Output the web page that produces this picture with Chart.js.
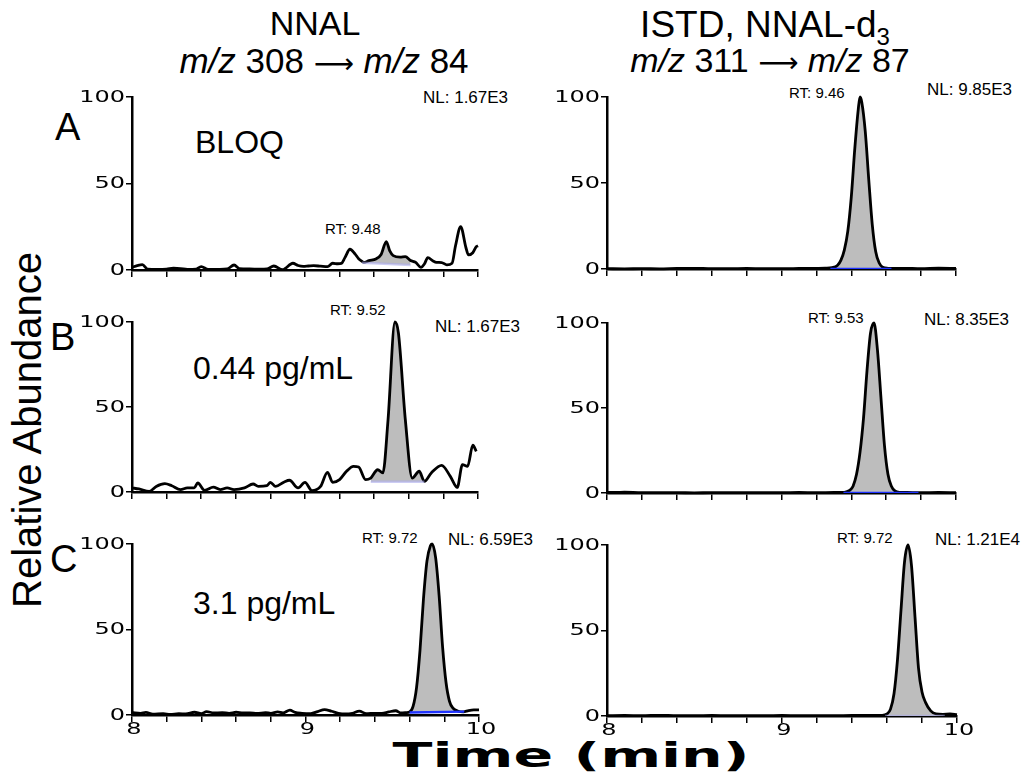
<!DOCTYPE html>
<html>
<head>
<meta charset="utf-8">
<script src="https://cdn.jsdelivr.net/npm/chart.js@4.4.0/dist/chart.umd.min.js"></script>
<style>
  body { margin: 0; background: #fff; }
  #wrap { position: relative; width: 1029px; height: 779px; overflow: hidden;
          font-family: "Liberation Sans", Arial, sans-serif; color: #000; }
  .txt { position: absolute; white-space: nowrap; line-height: 1; }
  .c { transform: translateX(-50%); }
  .nl { font-size: 17px; }
  .rt { font-size: 15px; }
  .conc { font-size: 32px; }
  .lab { font-size: 38px; }
  .hd { font-size: 34px; }
  .hd2 { font-size: 34px; }
  .arr { font-family: "DejaVu Sans"; font-size: 28px; }
  canvas { position: absolute; }
</style>
</head>
<body>
<div id="wrap">
  <div class="txt c hd" style="left:315px; top:6px;">NNAL</div>
  <div class="txt c hd2" style="left:324px; top:43px; font-size:35px;"><i>m/z</i> 308 <span class="arr">⟶</span> <i>m/z</i> 84</div>
  <div class="txt c hd" style="left:765px; top:6px; font-size:37px;">ISTD, NNAL-d<sub style="font-size:24px;">3</sub></div>
  <div class="txt c hd2" style="left:770px; top:43px;"><i>m/z</i> 311 <span class="arr">⟶</span> <i>m/z</i> 87</div>

  <div class="txt lab" style="left:55px; top:108px;">A</div>
  <div class="txt lab" style="left:50px; top:318px;">B</div>
  <div class="txt lab" style="left:50px; top:540px;">C</div>

  <div class="txt conc" style="left:195px; top:126px;">BLOQ</div>
  <div class="txt conc" style="left:193px; top:352px;">0.44 pg/mL</div>
  <div class="txt conc" style="left:193px; top:587px;">3.1 pg/mL</div>

  <div class="txt nl" style="left:423px; top:89px;">NL: 1.67E3</div>
  <div class="txt rt" style="left:325px; top:221px;">RT: 9.48</div>
  <div class="txt rt" style="left:789px; top:85px;">RT: 9.46</div>
  <div class="txt nl" style="left:927px; top:81px;">NL: 9.85E3</div>

  <div class="txt rt" style="left:330px; top:302px;">RT: 9.52</div>
  <div class="txt nl" style="left:435px; top:318px;">NL: 1.67E3</div>
  <div class="txt rt" style="left:808px; top:310px;">RT: 9.53</div>
  <div class="txt nl" style="left:924px; top:311px;">NL: 8.35E3</div>

  <div class="txt rt" style="left:362px; top:530px;">RT: 9.72</div>
  <div class="txt nl" style="left:448px; top:531px;">NL: 6.59E3</div>
  <div class="txt rt" style="left:837px; top:530px;">RT: 9.72</div>
  <div class="txt nl" style="left:935px; top:531px;">NL: 1.21E4</div>

  <div class="txt" style="left:27px; top:430px; font-size:40px; transform:translate(-50%,-50%) rotate(-90deg);">Relative Abundance</div>
  <div class="txt" style="left:571px; top:738px; font-family:'DejaVu Sans'; font-weight:bold; font-size:34px; transform:translateX(-50%) scaleX(1.72);">Time (min)</div>

  <canvas id="cA1"></canvas>
  <canvas id="cB1"></canvas>
  <canvas id="cC1"></canvas>
  <canvas id="cA2"></canvas>
  <canvas id="cB2"></canvas>
  <canvas id="cC2"></canvas>
</div>

<script>
// axis ticks
const xLabels = [8, 9, 10];
const yLabels = [0, 50, 100];

// NNAL, m/z 308 -> 84
const timeA1 = [8.00, 8.03, 8.06, 8.09, 8.15, 8.20, 8.24, 8.28, 8.32, 8.37, 8.40, 8.44, 8.50, 8.55, 8.59, 8.62, 8.68, 8.74, 8.78, 8.82, 8.87, 8.93, 8.96, 8.99, 9.02, 9.05, 9.09, 9.13, 9.16, 9.19, 9.21, 9.23, 9.26, 9.29, 9.31, 9.33, 9.34, 9.37, 9.41, 9.44, 9.47, 9.49, 9.51, 9.55, 9.58, 9.61, 9.64, 9.67, 9.69, 9.71, 9.74, 9.76, 9.79, 9.82, 9.85, 9.87, 9.90, 9.93, 9.945, 9.97, 9.99, 10.0];
const abundA1 = [1.5, 2.5, 3.1, 0.5, 0.3, 0.5, 1.0, 0.8, 0.4, 0.5, 2.0, 0.3, 0.4, 0.6, 2.9, 0.8, 0.6, 0.5, 0.6, 2.3, 0.2, 3.9, 2.6, 2.1, 2.3, 2.5, 2.2, 1.9, 3.9, 3.6, 3.8, 7.0, 12.0, 9.2, 6.5, 5.0, 4.4, 5.4, 6.4, 9.0, 16.4, 11.0, 8.3, 7.5, 7.7, 5.5, 4.4, 1.5, 3.5, 7.1, 5.2, 4.4, 4.3, 3.0, 3.9, 14.0, 25.0, 13.0, 8.7, 10.0, 13.5, 14.0];
const peakA1 = [9.33, 9.61];
const baseA1 = [4.2, 2.9];

const timeB1 = [8.00, 8.04, 8.10, 8.14, 8.19, 8.23, 8.28, 8.32, 8.36, 8.38, 8.42, 8.47, 8.51, 8.55, 8.59, 8.65, 8.70, 8.73, 8.78, 8.80, 8.83, 8.88, 8.91, 8.96, 9.00, 9.04, 9.09, 9.13, 9.16, 9.20, 9.24, 9.28, 9.31, 9.35, 9.38, 9.42, 9.45, 9.48, 9.52, 9.54, 9.58, 9.62, 9.66, 9.69, 9.73, 9.79, 9.84, 9.88, 9.91, 9.94, 9.97, 9.99];
const abundB1 = [2.4, 1.8, 0.4, 3.3, 4.9, 3.7, 1.4, 2.4, 2.4, 5.3, 1.0, 2.9, 1.4, 2.4, 1.4, 2.4, 4.7, 3.3, 3.7, 5.7, 3.3, 5.9, 6.9, 2.4, 5.7, 0.8, 3.3, 11.6, 5.7, 7.3, 12.2, 15.1, 14.7, 7.3, 8.2, 13.1, 11.2, 42.5, 100, 93.5, 42.5, 8.2, 12.2, 6.3, 11.2, 15.7, 9.2, 2.7, 16.1, 15.1, 27.5, 23.9];
const peakB1 = [9.38, 9.69];
const baseB1 = [6.0, 6.0];

const timeC1 = [8.00, 8.05, 8.08, 8.12, 8.18, 8.22, 8.27, 8.31, 8.36, 8.40, 8.43, 8.47, 8.52, 8.56, 8.60, 8.64, 8.68, 8.72, 8.77, 8.80, 8.84, 8.87, 8.91, 8.94, 8.98, 9.03, 9.07, 9.11, 9.15, 9.19, 9.23, 9.27, 9.31, 9.35, 9.40, 9.44, 9.48, 9.52, 9.55, 9.58, 9.60, 9.62, 9.64, 9.66, 9.68, 9.70, 9.72, 9.73, 9.75, 9.77, 9.79, 9.81, 9.83, 9.85, 9.88, 9.91, 9.94, 9.97, 10.0];
const abundC1 = [1.5, 1.0, 1.5, 0.5, 0.8, 0.3, 0.8, 0.6, 1.6, 0.8, 2.0, 1.2, 1.4, 1.0, 1.6, 1.2, 1.3, 0.9, 1.4, 1.0, 1.8, 1.2, 2.8, 1.5, 1.0, 0.8, 2.0, 3.2, 2.2, 1.0, 0.6, 1.0, 2.3, 0.8, 1.0, 0.9, 1.8, 2.5, 1.2, 1.4, 1.8, 5, 16, 38, 68, 90, 99, 100, 92, 70, 40, 19, 8, 4, 2.2, 1.8, 2.6, 3.0, 3.0];
const peakC1 = [9.60, 9.915];
const baseC1 = [1.5, 2.0];

// ISTD, NNAL-d3, m/z 311 -> 87
const timeA2 = [8.0, 8.1, 8.2, 8.3, 8.4, 8.5, 8.6, 8.7, 8.8, 8.9, 9.0, 9.1, 9.2, 9.25, 9.29, 9.32, 9.34, 9.36, 9.38, 9.40, 9.42, 9.44, 9.45, 9.46, 9.48, 9.50, 9.52, 9.54, 9.56, 9.58, 9.61, 9.65, 9.7, 9.8, 9.9, 10.0];
const abundA2 = [0.2, 0.1, 0.2, 0.1, 0.3, 0.4, 0.2, 0.2, 0.3, 0.2, 0.2, 0.3, 0.4, 0.5, 0.8, 2, 5, 11, 22, 42, 70, 93, 100, 97, 80, 52, 26, 10, 3.5, 1, 0.4, 0.3, 0.4, 0.2, 0.5, 0.3];
const peakA2 = [9.28, 9.63];
const baseA2 = [0, 0];

const timeB2 = [8.0, 8.05, 8.1, 8.2, 8.3, 8.4, 8.5, 8.6, 8.7, 8.8, 8.9, 9.0, 9.1, 9.2, 9.3, 9.36, 9.39, 9.41, 9.43, 9.45, 9.47, 9.49, 9.51, 9.53, 9.55, 9.57, 9.59, 9.61, 9.63, 9.65, 9.68, 9.72, 9.8, 9.9, 10.0];
const abundB2 = [0.4, 0.3, 0.5, 0.2, 0.2, 0.2, 0.1, 0.2, 0.2, 0.2, 0.2, 0.2, 0.3, 0.2, 0.3, 0.4, 1.5, 4, 11, 24, 44, 72, 94, 100, 84, 56, 28, 11, 4, 1.2, 0.4, 0.3, 0.2, 0.3, 0.2];
const peakB2 = [9.355, 9.785];
const baseB2 = [0, 0];

const timeC2 = [8.0, 8.1, 8.2, 8.3, 8.4, 8.5, 8.6, 8.7, 8.8, 8.9, 9.0, 9.1, 9.2, 9.3, 9.4, 9.5, 9.57, 9.6, 9.62, 9.64, 9.66, 9.68, 9.70, 9.72, 9.74, 9.76, 9.78, 9.80, 9.82, 9.85, 9.88, 9.92, 9.96, 10.0];
const abundC2 = [0.2, 0.3, 0.2, 0.4, 0.2, 0.2, 0.3, 0.2, 0.2, 0.2, 0.3, 0.2, 0.2, 0.2, 0.3, 0.3, 0.4, 1.2, 4, 13, 33, 62, 90, 100, 88, 58, 28, 14, 8, 3, 1.2, 1.0, 1.2, 0.8];
const peakC2 = [9.59, 9.93];
const baseC2 = [0, 0];

const BLUE = '#1e32ff';
const LAVENDER = 'rgba(170,170,235,0.6)';

// draws the wide tick numbers at the positions given by the chart's scales
const wideTicks = {
  id: 'wideTicks',
  afterDraw(chart, args, opts) {
    const ctx = chart.ctx;
    const sx = 1.6;
    ctx.save();
    ctx.fillStyle = '#000';
    ctx.font = '15px "DejaVu Sans"';
    ctx.textBaseline = 'middle';
    const ys = chart.scales.y;
    ctx.textAlign = 'right';
    yLabels.forEach(v => {
      ctx.save();
      ctx.translate(ys.right - 7, ys.getPixelForValue(v) + 1);
      ctx.scale(sx, 1);
      ctx.fillText(String(v), 0, 0);
      ctx.restore();
    });
    if (opts.showX) {
      const xs = chart.scales.x;
      ctx.textAlign = 'center';
      xLabels.forEach(v => {
        ctx.save();
        ctx.translate(xs.getPixelForValue(v) + 2, xs.top + 15);
        ctx.scale(sx, 1);
        ctx.fillText(String(v), 0, 0);
        ctx.restore();
      });
    }
    ctx.restore();
  }
};

function makePanel(id, box, time, abund, peak, base, baseColor, showX) {
  const padTop = 12, padRight = 30, yW = 62, xH = 30;
  const cv = document.getElementById(id);
  cv.width = box.r - box.l + yW + padRight;
  cv.height = box.b - box.t + padTop + xH;
  cv.style.left = (box.l - yW) + 'px';
  cv.style.top = (box.t - padTop) + 'px';

  const trace = time.map((t, i) => ({ x: t, y: abund[i] }));
  const peakPts = trace.filter(p => p.x >= peak[0] && p.x <= peak[1]);
  const baseline = [{ x: peak[0], y: base[0] }, { x: peak[1], y: base[1] }];

  new Chart(cv, {
    type: 'line',
    data: {
      datasets: [
        { data: baseline, borderColor: baseColor, borderWidth: 2.4, pointRadius: 0, fill: false },
        { data: trace, borderColor: '#000', borderWidth: 2.8, pointRadius: 0,
          cubicInterpolationMode: 'monotone', fill: false, clip: false },
        { data: peakPts, borderWidth: 0, borderColor: 'rgba(0,0,0,0)', pointRadius: 0,
          cubicInterpolationMode: 'monotone', backgroundColor: '#bdbdbd', fill: 0 }
      ]
    },
    options: {
      responsive: false,
      animation: false,
      events: [],
      layout: { padding: { left: 0, top: padTop, right: padRight, bottom: 0 } },
      plugins: { legend: { display: false }, tooltip: { enabled: false }, wideTicks: { showX } },
      scales: {
        x: {
          type: 'linear', min: 8, max: 10,
          ticks: { stepSize: 0.2, autoSkip: false, color: 'rgba(0,0,0,0)', font: { size: 10 } },
          grid: { drawOnChartArea: false, drawTicks: true, tickLength: 7, color: '#000', lineWidth: 1.5 },
          border: { display: true, color: '#000', width: 2.5 },
          afterFit: s => { s.height = xH; }
        },
        y: {
          min: 0, max: 100,
          ticks: { stepSize: 50, color: 'rgba(0,0,0,0)', font: { size: 10 } },
          grid: { drawOnChartArea: false, drawTicks: true, tickLength: 6, color: '#000', lineWidth: 1.5 },
          border: { display: true, color: '#000', width: 2.5 },
          afterFit: s => { s.width = yW; }
        }
      }
    },
    plugins: [wideTicks]
  });
}

makePanel('cA1', { l: 132, r: 478, t: 97, b: 270 }, timeA1, abundA1, peakA1, baseA1, LAVENDER, false);
makePanel('cB1', { l: 132, r: 478, t: 322, b: 492 }, timeB1, abundB1, peakB1, baseB1, LAVENDER, false);
makePanel('cC1', { l: 132, r: 479, t: 544, b: 715 }, timeC1, abundC1, peakC1, baseC1, BLUE, true);
makePanel('cA2', { l: 607, r: 956, t: 97, b: 269 }, timeA2, abundA2, peakA2, baseA2, BLUE, false);
makePanel('cB2', { l: 607, r: 956, t: 323, b: 493 }, timeB2, abundB2, peakB2, baseB2, BLUE, false);
makePanel('cC2', { l: 607, r: 957, t: 545, b: 716 }, timeC2, abundC2, peakC2, baseC2, LAVENDER, true);
</script>
</body>
</html>
